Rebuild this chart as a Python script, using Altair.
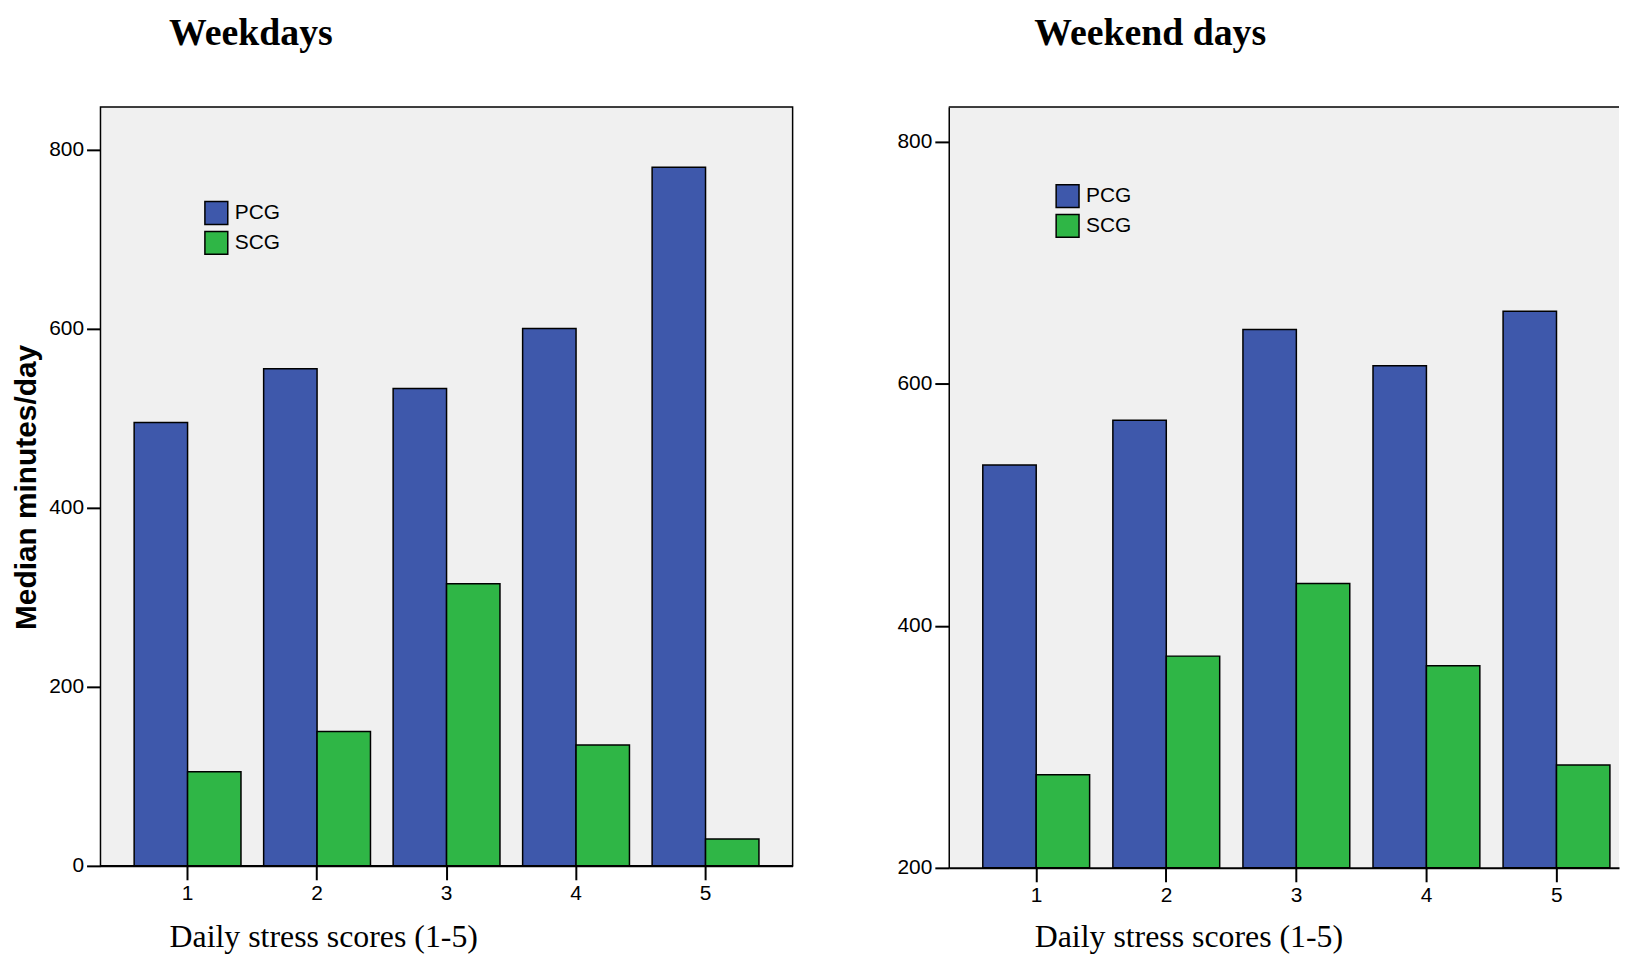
import altair as alt
import pandas as pd

scores = ["1", "2", "3", "4", "5"]
groups = ["PCG", "SCG"]
weekday_pcg = [495, 555, 533, 600, 780]
weekday_scg = [105, 150, 315, 135, 30]
weekend_pcg = [533, 570, 645, 615, 660]
weekend_scg = [277, 375, 435, 367, 285]
colors = ["#3e58ab", "#2fb646"]


def table(pcg, scg):
    rows = []
    for s, p, c in zip(scores, pcg, scg):
        rows.append({"score": s, "group": "PCG", "value": p})
        rows.append({"score": s, "group": "SCG", "value": c})
    return pd.DataFrame(rows)


def make_title(text, dx):
    return alt.TitleParams(text, anchor="start", frame="group", dx=dx,
                           offset=24, baseline="alphabetic",
                           font="Liberation Serif", fontSize=38,
                           fontWeight="bold", color="black")


def bars(data, title_dx, x_scale, ydomain, yvalues, ytitle,
         legend_x, legend_y, xtitle_y, ydomain_line):
    yaxis_kwargs = dict(values=yvalues, labelFlush=False, labelOverlap=False)
    if ydomain_line:
        yaxis_kwargs.update(domain=True, domainColor="black", domainWidth=1.5)
    if ytitle:
        yaxis_kwargs.update(title=ytitle, titleX=-74, titleY=382, titleAngle=270,
                            titleAlign="center", titleBaseline="middle",
                            titleFont="Liberation Sans", titleFontWeight="bold",
                            titleFontSize=30)
    else:
        yaxis_kwargs.update(title=None)
    return alt.Chart(data).mark_bar(stroke="black", strokeWidth=1.5).encode(
        x=alt.X("score:N", sort=scores, scale=x_scale,
                axis=alt.Axis(title="Daily stress scores (1-5)", labelAngle=0,
                              titleX=title_dx, titleY=xtitle_y,
                              titleAlign="left", titleBaseline="alphabetic",
                              titleFont="Liberation Serif", titleFontSize=32,
                              titleFontWeight="normal")),
        xOffset=alt.XOffset("group:N", sort=groups,
                            scale=alt.Scale(paddingInner=0, paddingOuter=0)),
        y=alt.Y("value:Q", scale=alt.Scale(domain=ydomain, nice=False, zero=False),
                axis=alt.Axis(**yaxis_kwargs)),
        y2=alt.datum(ydomain[0]),
        color=alt.Color("group:N", scale=alt.Scale(domain=groups, range=colors),
                        legend=alt.Legend(orient="none", legendX=legend_x,
                                          legendY=legend_y, title=None,
                                          symbolType="square", symbolSize=529,
                                          symbolStrokeColor="black",
                                          symbolStrokeWidth=1.5,
                                          labelFont="Liberation Sans",
                                          labelFontSize=21, labelColor="black",
                                          labelOffset=6, rowPadding=1,
                                          padding=0)),
    )


left_domain = [0, 847.2]
right_domain = [200, 828.8]

left = bars(table(weekday_pcg, weekday_scg), 69,
            alt.Scale(paddingInner=0.175, paddingOuter=0.26),
            left_domain, [0, 200, 400, 600, 800], "Median minutes/day",
            104, 94, 81, False).properties(
    width=696, height=763, title=make_title("Weekdays", 69),
    view=alt.ViewBackground(fill="#f0f0f0", stroke="black", strokeWidth=1.5))

right_bars = bars(table(weekend_pcg, weekend_scg), 86,
                  alt.Scale(paddingInner=0.175, paddingOuter=0.164, align=0.798),
                  right_domain, [200, 400, 600, 800], None,
                  107, 77, 79, True)

# top edge of the (cut-off) right frame
right_top = alt.Chart(pd.DataFrame({"top": [right_domain[1]]})).mark_rule(
    color="black", strokeWidth=1.5
).encode(y=alt.Y("top:Q"))

right = alt.layer(right_bars, right_top).properties(
    width=674, height=765, title=make_title("Weekend days", 86),
    view=alt.ViewBackground(fill="#f0f0f0", stroke="transparent", strokeWidth=0))

chart = alt.hconcat(left, right, spacing=103).resolve_scale(
    color="independent", x="independent", y="independent"
).resolve_legend(color="independent").properties(
    padding={"left": 3, "top": 4, "right": 0, "bottom": 0}
).configure_view(
    fill="#f0f0f0"
).configure_axis(
    grid=False, tickColor="black", tickSize=14, tickWidth=2,
    labelColor="black", labelFont="Liberation Sans", labelFontSize=21,
    domainColor="black", titleColor="black"
).configure_axisY(
    domain=False, labelPadding=3
).configure_axisX(
    domain=True, domainWidth=2, labelPadding=3
)

chart.save("out.html", embed_options={"renderer": "svg", "actions": False})
